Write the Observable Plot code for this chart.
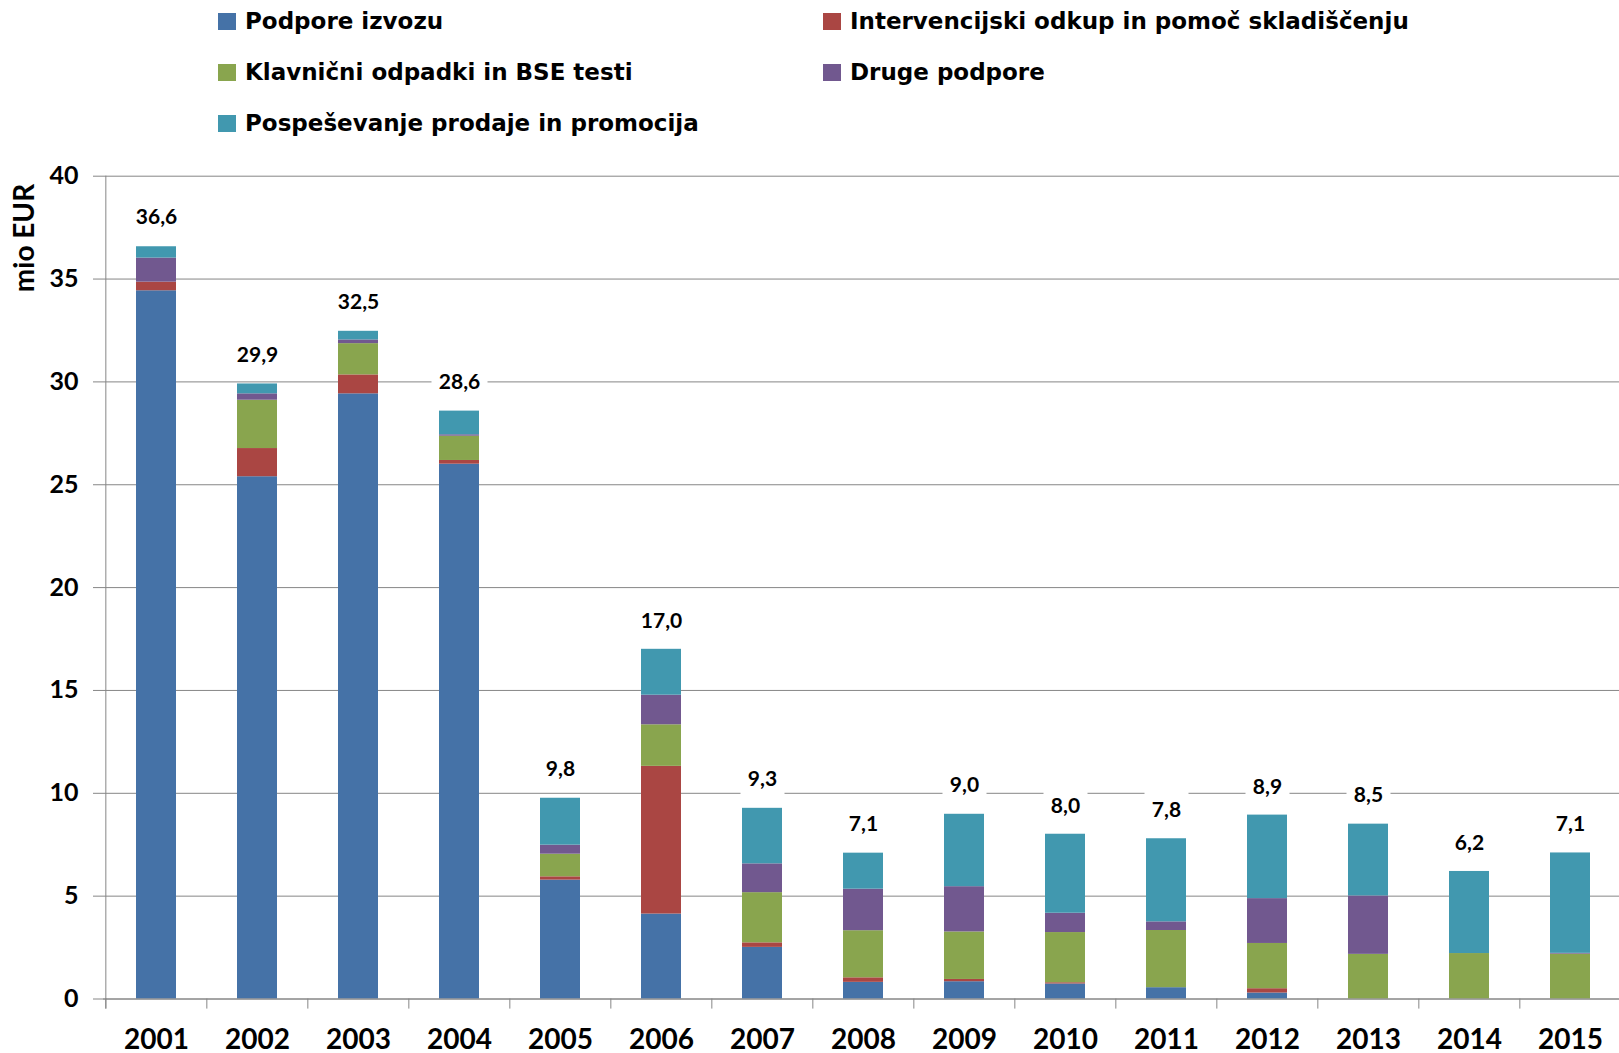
<!DOCTYPE html>
<html>
<head>
<meta charset="utf-8">
<script src="https://cdn.jsdelivr.net/npm/d3@7"></script>
<script src="https://cdn.jsdelivr.net/npm/@observablehq/plot@0.6"></script>
<style>
  html, body { margin: 0; padding: 0; background: #fff; overflow: hidden; }
  #wrap { position: relative; width: 1619px; height: 1053px; font-family: Lato, "Open Sans", sans-serif; }
  #legend { position: relative; height: 140px; }
  .item { position: absolute; display: flex; align-items: center; font-family: "DejaVu Sans", sans-serif; font-weight: 700; font-size: 23px; color: #000; white-space: nowrap; }
  .sw { width: 18px; height: 17px; margin-right: 9px; }
  #ylabel { position: absolute; left: 23px; top: 238px; transform: translate(-50%, -50%) rotate(-90deg); font-weight: 700; font-size: 28px; white-space: nowrap; }
</style>
</head>
<body>
<div id="wrap">
  <div id="legend"></div>
  <div id="chart"></div>
  <div id="ylabel">mio EUR</div>
</div>
<script>
const years = ["2001","2002","2003","2004","2005","2006","2007","2008","2009","2010","2011","2012","2013","2014","2015"];
const seriesNames = [
  "Podpore izvozu",
  "Intervencijski odkup in pomoč skladiščenju",
  "Klavnični odpadki in BSE testi",
  "Druge podpore",
  "Pospeševanje prodaje in promocija"
];
const seriesColors = ["#4572A7", "#AA4643", "#89A54E", "#71588F", "#4198AF"];

const podporeIzvozu   = [34.43, 25.39, 29.42, 26.00, 5.78, 4.13, 2.51, 0.81, 0.84, 0.73, 0.55, 0.29, 0, 0, 0];
const intervencijski  = [0.42, 1.37, 0.92, 0.18, 0.16, 7.18, 0.22, 0.22, 0.11, 0.06, 0, 0.21, 0, 0, 0];
const klavnicni       = [0, 2.35, 1.52, 1.18, 1.10, 2.02, 2.44, 2.29, 2.31, 2.44, 2.78, 2.20, 2.17, 2.21, 2.18];
const drugePodpore    = [1.17, 0.31, 0.18, 0.07, 0.44, 1.44, 1.40, 2.02, 2.20, 0.94, 0.42, 2.18, 2.84, 0, 0.04];
const pospesevanje    = [0.55, 0.48, 0.42, 1.15, 2.28, 2.23, 2.70, 1.75, 3.52, 3.84, 4.04, 4.06, 3.49, 3.99, 4.88];
const totals          = [36.6, 29.9, 32.5, 28.6, 9.8, 17.0, 9.3, 7.1, 9.0, 8.0, 7.8, 8.9, 8.5, 6.2, 7.1];
const yTicks = [0, 5, 10, 15, 20, 25, 30, 35, 40];

const seriesValues = [podporeIzvozu, intervencijski, klavnicni, drugePodpore, pospesevanje];
const data = years.flatMap((yr, i) => seriesValues.map((vals, s) => ({year: yr, series: seriesNames[s], value: vals[i]})));
const fmt = v => v.toFixed(1).replace(".", ",");
const totalData = years.map((yr, i) => ({year: yr, total: totals[i], label: fmt(totals[i])}));

// Legend (HTML, above the SVG)
const legendPos = [[218, 21], [823, 21], [218, 72], [823, 72], [218, 123]];
const legend = document.getElementById("legend");
seriesNames.forEach((name, i) => {
  const it = document.createElement("div");
  it.className = "item";
  it.style.left = legendPos[i][0] + "px";
  it.style.top = (legendPos[i][1] - 15) + "px";
  it.style.height = "30px";
  const sw = document.createElement("span");
  sw.className = "sw";
  sw.style.background = seriesColors[i];
  it.appendChild(sw);
  it.appendChild(document.createTextNode(name));
  legend.appendChild(it);
});

const W = 1619, H = 913, ML = 103, MR = -4, MT = 35.7, MB = 54.5;
const step = (W - ML - MR) / years.length;
const grid = "#868686";

// white label background boxes (Excel-style data label boxes)
const boxSymbol = (w, h) => ({draw(ctx) { ctx.rect(-w / 2, -h / 2, w, h); }});
const labelDy = -28.5;

const chart = Plot.plot({
  width: W,
  height: H,
  marginLeft: ML,
  marginRight: MR,
  marginTop: MT,
  marginBottom: MB,
  style: {fontFamily: "Lato, 'Open Sans', sans-serif", background: "white", overflow: "visible"},
  x: {domain: years, paddingInner: 0.6, paddingOuter: 0.3, axis: null},
  y: {domain: [0, 40], axis: null},
  color: {domain: seriesNames, range: seriesColors},
  marks: [
    Plot.gridY(yTicks, {stroke: grid, strokeOpacity: 1, strokeWidth: 1}),
    Plot.axisY(yTicks, {tickSize: 10, tickPadding: 15, fontSize: 25, fontWeight: "bold", stroke: grid, strokeOpacity: 1, fill: "black", tickFormat: d => d, label: null}),
    Plot.axisX(years, {tickSize: 0, tickPadding: 30, fontSize: 28, fontWeight: "bold", fill: "black", label: null}),
    Plot.barY(data, {x: "year", y: "value", fill: "series", order: seriesNames}),
    Plot.ruleY([0], {stroke: grid, strokeWidth: 1}),
    Plot.ruleX(years, {x: d => d, dx: -step / 2, y1: -0.49, y2: 0, stroke: grid, strokeWidth: 1}),
    Plot.ruleX([years[0]], {x: d => d, dx: -step / 2, y1: -0.49, y2: 40, stroke: grid, strokeWidth: 1}),
    Plot.dot(totalData.filter(d => d.label.length > 3), {x: "year", y: "total", dy: labelDy, symbol: boxSymbol(56, 42), fill: "white", stroke: null, r: 10}),
    Plot.dot(totalData.filter(d => d.label.length <= 3), {x: "year", y: "total", dy: labelDy, symbol: boxSymbol(44, 42), fill: "white", stroke: null, r: 10}),
    Plot.text(totalData, {x: "year", y: "total", text: "label", dy: labelDy, fontSize: 21, fontWeight: "bold", fill: "black"})
  ]
});
document.getElementById("chart").appendChild(chart);
</script>
</body>
</html>
